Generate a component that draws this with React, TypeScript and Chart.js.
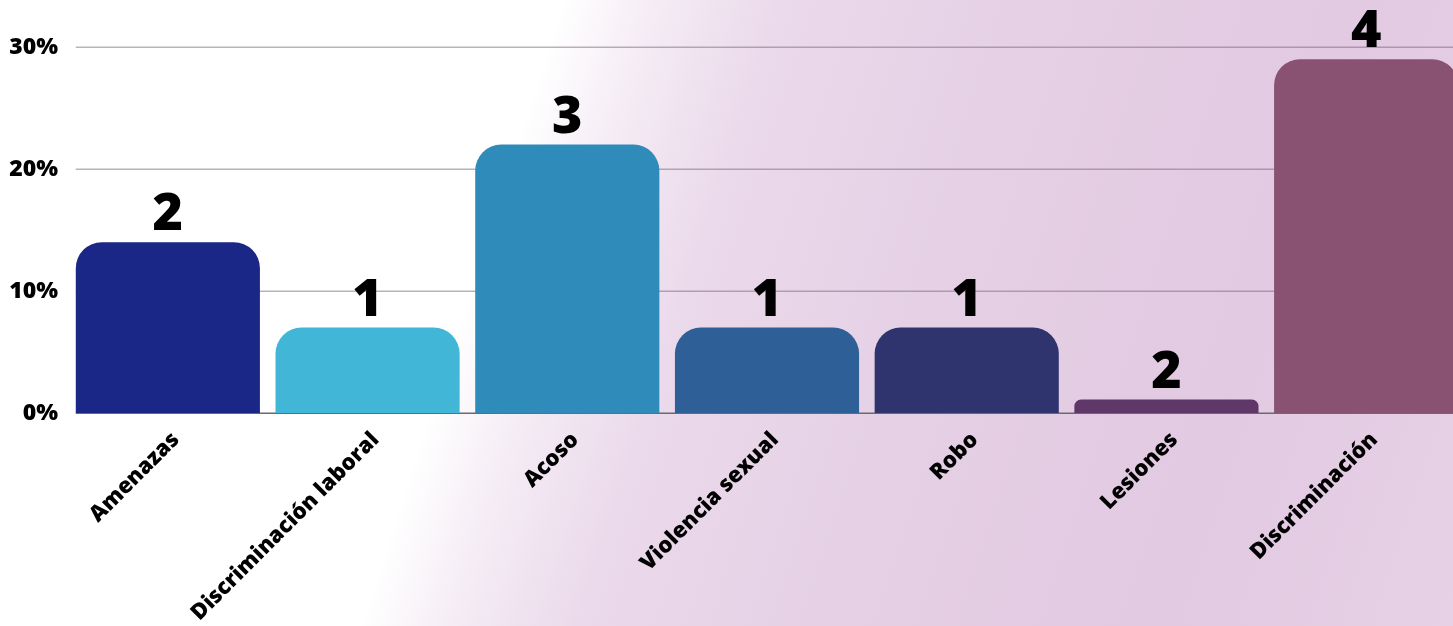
import React, { useEffect, useRef } from "react";
import { Chart, registerables } from "chart.js";

Chart.register(...registerables);

const categories = [
  "Amenazas",
  "Discriminación laboral",
  "Acoso",
  "Violencia sexual",
  "Robo",
  "Lesiones",
  "Discriminación",
];
const percentValues = [14, 7, 22, 7, 7, 1.1, 29];
const countLabels = ["2", "1", "3", "1", "1", "2", "4"];
const barColors = ["#1a2787", "#42b6d6", "#2e8bba", "#2e5f97", "#30346e", "#5f3768", "#8a5272"];
const yTicks = [0, 10, 20, 30];

const gridPlugin = {
  id: "customGrid",
  beforeDatasetsDraw(chart: any) {
    const ctx = chart.ctx;
    const y = chart.scales.y;
    const first = chart.getDatasetMeta(0).data[0];
    const x0 = first.x - first.width / 2;
    const x1 = chart.width;
    ctx.save();
    ctx.lineWidth = 1.5;
    yTicks.forEach((v) => {
      const py = Math.round(y.getPixelForValue(v)) + 0.25;
      ctx.strokeStyle = v === 0 ? "#6b6b6b" : "rgba(120,100,120,0.5)";
      ctx.beginPath();
      ctx.moveTo(x0, py);
      ctx.lineTo(x1, py);
      ctx.stroke();
    });
    ctx.restore();
  },
};

const dataLabelPlugin = {
  id: "countLabels",
  afterDatasetsDraw(chart: any) {
    const ctx = chart.ctx;
    const meta = chart.getDatasetMeta(0);
    ctx.save();
    ctx.fillStyle = "#000";
    ctx.font = '800 52px "Open Sans"';
    ctx.textAlign = "center";
    ctx.textBaseline = "alphabetic";
    meta.data.forEach((bar: any, i: number) => {
      ctx.fillText(countLabels[i], bar.x, bar.y - 12);
    });
    ctx.restore();
  },
};

export default function App() {
  const canvasRef = useRef<HTMLCanvasElement | null>(null);

  useEffect(() => {
    if (!canvasRef.current) return;
    const chart = new Chart(canvasRef.current, {
      type: "bar",
      data: {
        labels: categories,
        datasets: [
          {
            data: percentValues,
            backgroundColor: barColors,
            borderRadius: 26,
            borderSkipped: "bottom",
            barPercentage: 0.922,
            categoryPercentage: 1,
          },
        ],
      },
      options: {
        animation: false,
        responsive: true,
        maintainAspectRatio: false,
        layout: { padding: { top: 47, right: 0, left: 0, bottom: 0 } },
        plugins: {
          legend: { display: false },
          tooltip: { enabled: false },
        },
        scales: {
          x: {
            grid: { display: false, drawTicks: false, tickLength: 0 },
            border: { display: false },
            ticks: {
              color: "#000",
              font: { family: "Open Sans", weight: "800", size: 22 },
              maxRotation: 45,
              minRotation: 45,
              padding: 14,
              labelOffset: 8,
              autoSkip: false,
            },
            afterFit(scale: any) {
              scale.height = 213;
            },
          },
          y: {
            min: 0,
            max: 30,
            afterBuildTicks(scale: any) {
              scale.ticks = yTicks.map((v) => ({ value: v }));
            },
            grid: { display: false, drawTicks: false, tickLength: 0 },
            border: { display: false },
            ticks: {
              color: "#000",
              font: { family: "Open Sans", weight: "800", size: 23 },
              padding: 10,
              callback: (v: any) => v + "%",
            },
            afterFit(scale: any) {
              scale.width = 68;
            },
          },
        },
      },
      plugins: [gridPlugin, dataLabelPlugin],
    });
    return () => chart.destroy();
  }, []);

  return (
    <div
      style={{
        position: "fixed",
        left: 0,
        top: 0,
        width: 1453,
        height: 626,
        overflow: "hidden",
        background:
          "linear-gradient(108deg, #ffffff 0%, #ffffff 34%, #f4ebf4 40%, #ebdaeb 47%, #e5d0e5 62%, #e2cae2 82%, #e6d1e6 100%)",
      }}
    >
      <div style={{ position: "absolute", left: 0, top: 0, width: 1466, height: 626 }}>
        <canvas ref={canvasRef} />
      </div>
    </div>
  );
}
